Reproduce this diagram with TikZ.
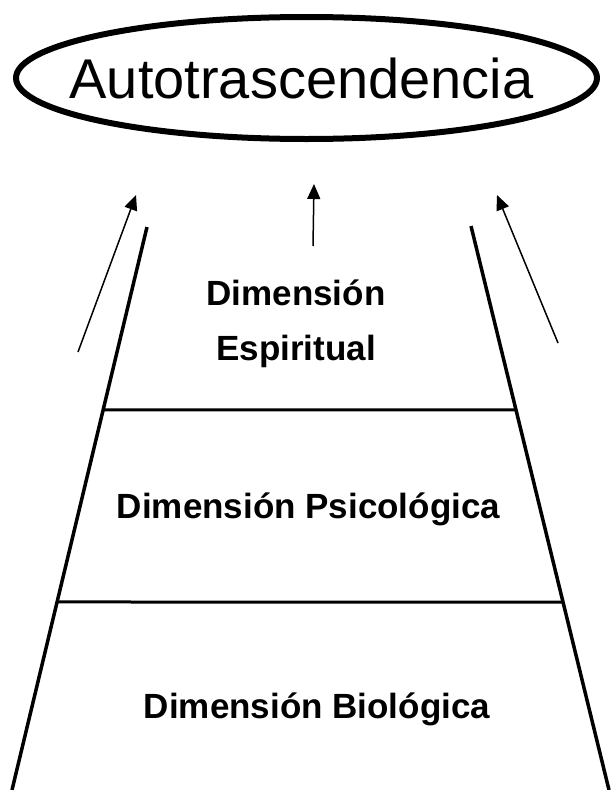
\documentclass[tikz,border=0pt]{standalone}
\usepackage{fontspec}
\setmainfont{Liberation Sans}
\usetikzlibrary{arrows.meta, calc}

\begin{document}
\begin{tikzpicture}[
    x=1pt, y=-1pt,
    goalText/.style={inner sep=0pt, font=\fontsize{56}{60}\selectfont},
    goalRing/.style={draw, line width=6pt},
    dText/.style={inner sep=0pt, font=\fontsize{35}{55}\selectfont\bfseries},
    sideLine/.style={draw, line width=3.5pt},
    levelLine/.style={draw, line width=3pt},
    upArr/.style={-{Triangle[length=15pt, width=13pt]}, line width=1.5pt}
]
    \useasboundingbox (0,0) rectangle (613,790);

    % goal
    \node[goalText] (auto) at (301.5,78) {Autotrascendencia};
    \draw[goalRing] ($(auto.center)+(5,0)$) ellipse [x radius=290.5, y radius=61];

    % sides of the trapezoid
    \coordinate (lTop) at (147,227);
    \coordinate (lBot) at (12,790);
    \coordinate (rTop) at (471,226);
    \coordinate (rBot) at (609,790);
    \draw[sideLine] (lTop) -- (lBot);
    \draw[sideLine] (rTop) -- (rBot);

    % levels
    \draw[levelLine] ($(lTop)!0.325!(lBot)$) -- ($(rTop)!0.326!(rBot)$);
    \draw[levelLine] ($(lTop)!0.666!(lBot)$) -- ($(rTop)!0.667!(rBot)$);

    \node[dText, align=center] (espi) at (296,324) {Dimensión\\Espiritual};
    \node[dText, anchor=base] (psico) at (308.5,518) {Dimensión Psicológica};
    \node[dText, anchor=base] (bio) at (317,718) {Dimensión Biológica};

    % arrows up to the goal
    \coordinate (aLs) at (78,352);
    \coordinate (aLe) at (136,195);
    \coordinate (aMs) at (313,246);
    \coordinate (aMe) at (314,184);
    \coordinate (aRs) at (558,343);
    \coordinate (aRe) at (497,195);
    \draw[upArr] (aLs) -- (aLe);
    \draw[upArr] (aMs) -- (aMe);
    \draw[upArr] (aRs) -- (aRe);
\end{tikzpicture}
\end{document}
